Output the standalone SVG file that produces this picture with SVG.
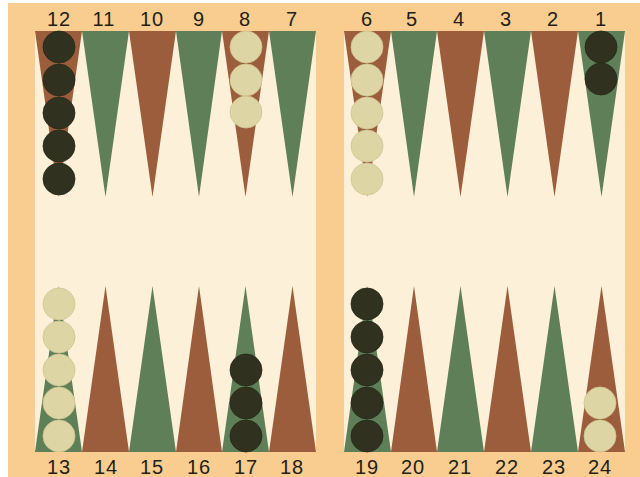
<svg xmlns="http://www.w3.org/2000/svg" width="640" height="477" viewBox="0 0 640 477">
<style>
.lbl{font-family:"Liberation Sans",Arial,sans-serif;font-size:20px;letter-spacing:1px;fill:#231d18;text-anchor:middle}
.b{fill:#9b5d3b}
.g{fill:#5f7f58}
.dk{fill:#30321f;stroke:#262816;stroke-width:0.8}
.lt{fill:#ddd6a4;stroke:#cfc58f;stroke-width:0.8}
</style>
<rect x="0" y="0" width="640" height="477" fill="#ffffff"/>
<rect x="8" y="3" width="632" height="474" fill="#f9cd8f"/>
<g id="board-left"><rect x="35" y="31" width="281" height="421" fill="#fdf0d9"/></g>
<g id="board-right"><rect x="344" y="31" width="281" height="421" fill="#fdf0d9"/></g>
<g id="points">
<polygon class="b" points="35,31 82,31 58.5,197"/>
<polygon class="g" points="82,31 129,31 105.5,197"/>
<polygon class="b" points="129,31 176,31 152.5,197"/>
<polygon class="g" points="176,31 222,31 199,197"/>
<polygon class="b" points="222,31 269,31 245.5,197"/>
<polygon class="g" points="269,31 316,31 292.5,197"/>
<polygon class="b" points="344,31 391,31 367.5,197"/>
<polygon class="g" points="391,31 437,31 414,197"/>
<polygon class="b" points="437,31 484,31 460.5,197"/>
<polygon class="g" points="484,31 531,31 507.5,197"/>
<polygon class="b" points="531,31 578,31 554.5,197"/>
<polygon class="g" points="578,31 625,31 601.5,197"/>
<polygon class="g" points="35,452 82,452 58.5,286"/>
<polygon class="b" points="82,452 129,452 105.5,286"/>
<polygon class="g" points="129,452 176,452 152.5,286"/>
<polygon class="b" points="176,452 222,452 199,286"/>
<polygon class="g" points="222,452 269,452 245.5,286"/>
<polygon class="b" points="269,452 316,452 292.5,286"/>
<polygon class="g" points="344,452 391,452 367.5,286"/>
<polygon class="b" points="391,452 437,452 414,286"/>
<polygon class="g" points="437,452 484,452 460.5,286"/>
<polygon class="b" points="484,452 531,452 507.5,286"/>
<polygon class="g" points="531,452 578,452 554.5,286"/>
<polygon class="b" points="578,452 625,452 601.5,286"/>
</g>
<g id="checkers">
<circle class="dk" cx="59" cy="47" r="16"/>
<circle class="dk" cx="59" cy="80" r="16"/>
<circle class="dk" cx="59" cy="113" r="16"/>
<circle class="dk" cx="59" cy="146" r="16"/>
<circle class="dk" cx="59" cy="179" r="16"/>
<circle class="lt" cx="246" cy="47" r="16"/>
<circle class="lt" cx="246" cy="80" r="16"/>
<circle class="lt" cx="246" cy="112" r="16"/>
<circle class="lt" cx="367" cy="47" r="16"/>
<circle class="lt" cx="367" cy="80" r="16"/>
<circle class="lt" cx="367" cy="113" r="16"/>
<circle class="lt" cx="367" cy="146" r="16"/>
<circle class="lt" cx="367" cy="179" r="16"/>
<circle class="dk" cx="601" cy="47" r="16"/>
<circle class="dk" cx="601" cy="79" r="16"/>
<circle class="lt" cx="59" cy="304" r="16"/>
<circle class="lt" cx="59" cy="337" r="16"/>
<circle class="lt" cx="59" cy="370" r="16"/>
<circle class="lt" cx="59" cy="403" r="16"/>
<circle class="lt" cx="59" cy="436" r="16"/>
<circle class="dk" cx="246" cy="370" r="16"/>
<circle class="dk" cx="246" cy="403" r="16"/>
<circle class="dk" cx="246" cy="436" r="16"/>
<circle class="dk" cx="367" cy="304" r="16"/>
<circle class="dk" cx="367" cy="337" r="16"/>
<circle class="dk" cx="367" cy="370" r="16"/>
<circle class="dk" cx="367" cy="403" r="16"/>
<circle class="dk" cx="367" cy="436" r="16"/>
<circle class="lt" cx="600" cy="403" r="16"/>
<circle class="lt" cx="600" cy="436" r="16"/>
</g>
<g id="labels">
<text class="lbl" x="59" y="26">12</text>
<text class="lbl" x="104" y="26">11</text>
<text class="lbl" x="152" y="26">10</text>
<text class="lbl" x="199" y="26">9</text>
<text class="lbl" x="245" y="26">8</text>
<text class="lbl" x="292" y="26">7</text>
<text class="lbl" x="367" y="26">6</text>
<text class="lbl" x="412" y="26">5</text>
<text class="lbl" x="459" y="26">4</text>
<text class="lbl" x="506" y="26">3</text>
<text class="lbl" x="553" y="26">2</text>
<text class="lbl" x="601" y="26">1</text>
<text class="lbl" x="59" y="474">13</text>
<text class="lbl" x="106" y="474">14</text>
<text class="lbl" x="152" y="474">15</text>
<text class="lbl" x="199" y="474">16</text>
<text class="lbl" x="246" y="474">17</text>
<text class="lbl" x="292" y="474">18</text>
<text class="lbl" x="367" y="474">19</text>
<text class="lbl" x="413" y="474">20</text>
<text class="lbl" x="460" y="474">21</text>
<text class="lbl" x="507" y="474">22</text>
<text class="lbl" x="554" y="474">23</text>
<text class="lbl" x="600" y="474">24</text>
</g>
</svg>
